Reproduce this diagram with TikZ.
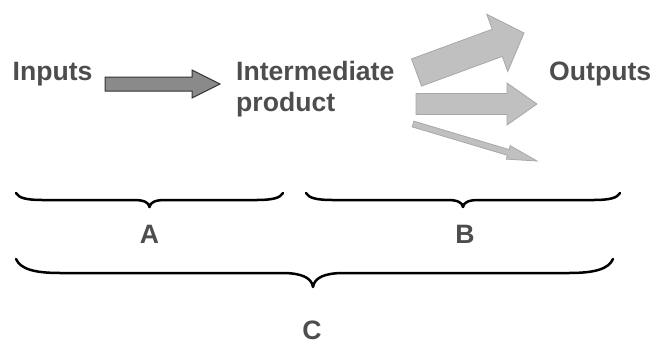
\documentclass[tikz,border=0pt]{standalone}
\usepackage{fontspec}
\setmainfont{Liberation Sans}
\definecolor{txt}{HTML}{4D4D4D}
\definecolor{darkfill}{HTML}{8A8A8A}
\definecolor{darkline}{HTML}{333333}
\definecolor{lightfill}{HTML}{C0C0C0}
\definecolor{lightline}{HTML}{A8A8A8}
\newcommand\mybracepath[6]{% x1 x2 xm y0 h r ; r2 = 2.2h
  (#1,#4) .. controls ({#1+0.1*#6},{#4+0.7*#5}) and ({#1+0.4*#6},{#4+#5}) .. ({#1+#6},{#4+#5})
  -- ({#3-2.2*#5},{#4+#5}) .. controls ({#3-0.9*#5},{#4+#5}) and ({#3-0.1*#5},{#4+1.3*#5}) .. (#3,{#4+2*#5})
  .. controls ({#3+0.1*#5},{#4+1.3*#5}) and ({#3+0.9*#5},{#4+#5}) .. ({#3+2.2*#5},{#4+#5})
  -- ({#2-#6},{#4+#5}) .. controls ({#2-0.4*#6},{#4+#5}) and ({#2-0.1*#6},{#4+0.7*#5}) .. (#2,#4)}
\begin{document}
\begin{tikzpicture}[x=1pt,y=-1pt,
  lbl/.style={font=\fontsize{26.6}{30}\selectfont\bfseries, text=txt, inner sep=0pt},
  darkarrow/.style={fill=darkfill, draw=darkline, line width=1pt, line join=miter},
  lightarrow/.style={fill=lightfill, draw=lightline, line width=0.8pt, line join=miter},
  bracestyle/.style={draw=black, line width=2.5pt, line cap=round, line join=round}]
\useasboundingbox (0,0) rectangle (658,345);

% texts
\node[lbl, anchor=base west] (inputs) at (12.5,80) {Inputs};
\node[lbl, anchor=base west] (inter) at (236,80) {Intermediate};
\node[lbl, anchor=base west] (prod) at (236,111) {product};
\node[lbl, anchor=base west] (outputs) at (549,80) {Outputs};

% dark arrow
\coordinate (a1tail) at (105,84);
\coordinate (a1tip) at (220,84);
\draw[darkarrow] (105,77) -- (192,77) -- (192,70) -- (a1tip) -- (192,98) -- (192,91) -- (105,91) -- cycle;

% big upper arrow
\coordinate (a2tip) at (524,33);
\draw[lightarrow] (411.5,58.9) -- (492.25,29.22) -- (486.73,14.2) -- (a2tip) -- (507.77,71.46) -- (502.25,56.44) -- (421.5,86.1) -- cycle;

% middle arrow
\coordinate (a3tip) at (537,104);
\draw[lightarrow] (416,93.5) -- (507,93.5) -- (507,83) -- (a3tip) -- (507,125) -- (507,114.5) -- (416,114.5) -- cycle;

% thin lower arrow
\coordinate (a4tip) at (537,161);
\draw[lightarrow] (413.86,121.13) -- (509.11,149.55) -- (510.25,145.71) -- (a4tip) -- (506.25,159.13) -- (507.39,155.29) -- (412.14,126.87) -- cycle;

% braces
\draw[bracestyle] \mybracepath{16}{283}{149.5}{193}{7}{26};
\draw[bracestyle] \mybracepath{306}{620}{463}{193}{7}{26};
\draw[bracestyle] \mybracepath{16}{613}{313}{259}{14}{44};

% brace labels
\node[lbl, anchor=base] (lA) at (149.5,243) {A};
\node[lbl, anchor=base] (lB) at (465,243) {B};
\node[lbl, anchor=base] (lC) at (312,339) {C};
\end{tikzpicture}
\end{document}
